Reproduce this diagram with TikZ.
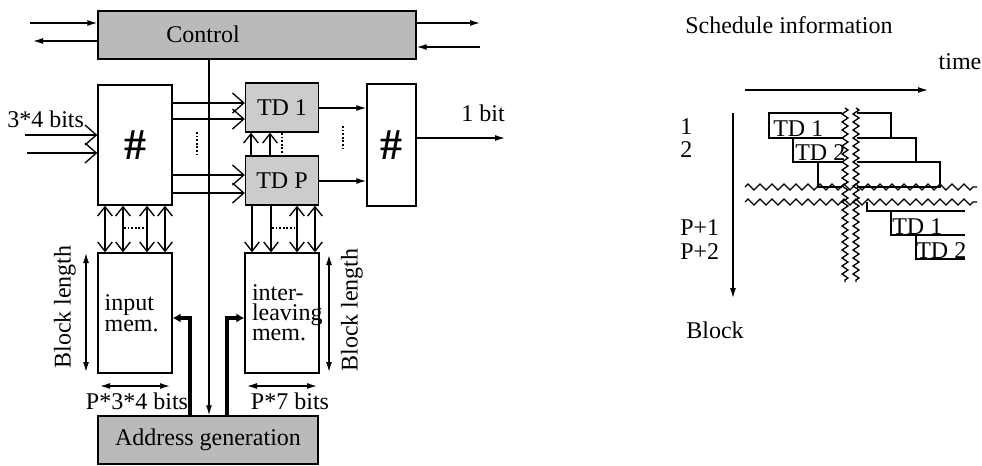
\documentclass[tikz,border=0pt]{standalone}
\usepackage{fontspec}
\setmainfont{Liberation Serif}
\usetikzlibrary{arrows.meta,decorations.pathmorphing}
\begin{document}
\begin{tikzpicture}[x=0.75pt,y=-0.75pt,
  every node/.style={font=\fontsize{18pt}{15.5pt}\selectfont, inner sep=0pt},
  ln/.style={line width=1pt},
  plainbox/.style={draw, line width=1pt, fill=white},
  graybox/.style={draw, line width=1pt, fill=black!27},
  tdbox/.style={draw, line width=1pt, fill=black!20},
  bigbarb/.tip={Straight Barb[length=8.5pt,width=15pt,line width=1pt]},
  smallbarb/.tip={Straight Barb[length=7pt,width=11pt,line width=1pt]},
  ltx/.tip={Latex[length=7.5pt,width=4.5pt]},
  thk/.style={line width=2.6pt, line join=miter},
  thktip/.tip={Latex[length=6pt,width=7pt]},
  dotline/.style={line width=1.6pt, dash pattern=on 1.3pt off 1.4pt},
  wavyh/.style={ln, decorate, decoration={zigzag, amplitude=2.2pt, segment length=9pt}},
  wavyv/.style={ln, decorate, decoration={zigzag, amplitude=2.2pt, segment length=6pt}},
  bigfont/.style={font=\fontsize{33pt}{33pt}\selectfont\bfseries}
]
\useasboundingbox (0,0) rectangle (982,465);

% ---------- blocks ----------
\node[graybox, minimum width=238.5pt, minimum height=36pt,
      label={[xshift=-40.5pt,yshift=0.75pt]center:Control}] (ctrl) at (257,35) {};
\node[plainbox, minimum width=55.5pt, minimum height=90pt, bigfont] (lhash) at (135,145) {\#};
\node[tdbox, minimum width=54.75pt, minimum height=36.75pt] (td1) at (282,107.5) {TD 1};
\node[tdbox, minimum width=54.75pt, minimum height=36.75pt] (tdp) at (282,180.5) {TD P};
\node[plainbox, minimum width=36.75pt, minimum height=91.5pt, bigfont] (rhash) at (391.5,145) {\#};
\node[plainbox, minimum width=55.5pt, minimum height=90pt, inner xsep=5pt,
      text width=45.5pt, align=left, font=\fontsize{18pt}{15.75pt}\selectfont] (inmem) at (135,313) {input\\[0pt]mem.\\[6pt]};
\node[plainbox, minimum width=55.5pt, minimum height=90pt, inner xsep=5.25pt,
      text width=45pt, align=left, font=\fontsize{18pt}{15pt}\selectfont] (ilmem) at (282,313) {inter-\\leaving\\mem.\\[6pt]};
\node[graybox, minimum width=165pt, minimum height=36pt] (addr) at (208,440) {Address generation};

% ---------- control connectors ----------
\coordinate (cl1) at (30,23);
\coordinate (cl2) at (33,41);
\coordinate (cr1) at (480,23);
\coordinate (cr2) at (480,47);
\draw[ln,-{ltx}] (cl1) -- (cl1 -| ctrl.west);
\draw[ln,-{ltx}] (cl2 -| ctrl.west) -- (cl2);
\draw[ln,-{ltx}] (cr1 -| ctrl.east) -- (cr1);
\draw[ln,-{ltx}] (cr2) -- (cr2 -| ctrl.east);
\draw[ln,-{ltx}] (ctrl.south -| 209,0) -- (addr.north -| 209,0);

% ---------- inputs ----------
\coordinate (in1) at (25,135);
\coordinate (in2) at (27,153);
\node[anchor=west] (inlabel) at (7,119) {3*4 bits};
\draw[ln,-{bigbarb}] (in1) -- (in1 -| lhash.west);
\draw[ln,-{bigbarb}] (in2) -- (in2 -| lhash.west);

% ---------- # to TDs ----------
\draw[ln,-{bigbarb}] (lhash.east |- 0,103) -- (td1.west |- 0,103);
\draw[ln,-{bigbarb}] (lhash.east |- 0,119) -- (td1.west |- 0,119);
\draw[ln,-{bigbarb}] (lhash.east |- 0,175) -- (tdp.west |- 0,175);
\draw[ln,-{bigbarb}] (lhash.east |- 0,193) -- (tdp.west |- 0,193);
\draw[dotline] (197,132) -- (197,155);

% TD P -> TD 1
\draw[ln,-{smallbarb}] (tdp.north -| 251,0) -- (td1.south -| 251,0);
\draw[ln,-{smallbarb}] (tdp.north -| 270,0) -- (td1.south -| 270,0);
\draw[dotline] (282,133) -- (282,156);

% TDs -> right #
\draw[ln,-{ltx}] (td1.east |- 0,108) -- (rhash.west |- 0,108);
\draw[ln,-{ltx}] (tdp.east |- 0,181) -- (rhash.west |- 0,181);
\draw[dotline] (343,126) -- (343,149);
\coordinate (out) at (505,138);
\draw[ln,-{ltx}] (rhash.east |- out) -- (out);
\node (outlabel) at (483,113) {1 bit};

% ---------- memory buses ----------
\foreach \x in {105,123,147,165}
  \draw[ln,{smallbarb}-{smallbarb}] (lhash.south -| \x,0) -- (inmem.north -| \x,0);
\draw[dotline] (124,228) -- (147,228);
\foreach \x in {252,271}
  \draw[ln,-{smallbarb}] (tdp.south -| \x,0) -- (ilmem.north -| \x,0);
\foreach \x in {297,315}
  \draw[ln,{smallbarb}-{smallbarb}] (tdp.south -| \x,0) -- (ilmem.north -| \x,0);
\draw[dotline] (272,228) -- (296,228);

% ---------- dimension arrows ----------
\draw[ln,{ltx}-{ltx}] (86,253) -- (86,372);
\node[rotate=90] (bl1) at (65,307) {Block length};
\draw[ln,{ltx}-{ltx}] (329,255) -- (329,372);
\node[rotate=90] (bl2) at (352,310) {Block length};
\draw[ln,{ltx}-{ltx}] (100,386) -- (170,386);
\node (w1) at (137,401) {P*3*4 bits};
\draw[ln,{ltx}-{ltx}] (247,386) -- (317,386);
\node (w2) at (290,401) {P*7 bits};

% ---------- address lines ----------
\draw[thk,-{thktip}] (addr.north -| 190,0) |- (inmem.east |- 0,318);
\draw[thk,-{thktip}] (addr.north -| 227,0) |- (ilmem.west |- 0,318);

% ---------- schedule ----------
\node[anchor=west] (schedtitle) at (685,25) {Schedule information};
\node (timelabel) at (960,62) {time};
\coordinate (t0) at (745,90);
\coordinate (t1) at (928,90);
\draw[ln,-{ltx}] (t0) -- (t1);
\coordinate (b0) at (733,113);
\coordinate (b1) at (733,298);
\draw[ln,-{ltx}] (b0) -- (b1);
\node (blocklabel) at (715,330) {Block};
\node[anchor=west] (r1) at (680,127) {1};
\node[anchor=west] (r2) at (680,150) {2};
\node[anchor=west] (rp1) at (680,228) {P+1};
\node[anchor=west] (rp2) at (680,252) {P+2};

% staircase (upper)
\draw[ln] (842,113) -- (769,113) -- (769,138) -- (842,138);
\draw[ln] (857,113) -- (891,113) -- (891,138) -- (857,138);
\draw[ln] (793,138) -- (793,162) -- (842,162);
\draw[ln] (857,162) -- (916,162) -- (916,138) -- (891,138);
\draw[ln] (818,162) -- (818,187) -- (842,187);
\draw[ln] (857,187) -- (940,187) -- (940,162) -- (916,162);
\node[anchor=base west] (s1) at (773,136) {TD 1};
\node[anchor=base west] (s2) at (795,160) {TD 2};

% staircase (lower)
\draw[ln] (867,202) -- (867,211) -- (965,211);
\draw[ln] (891,211) -- (891,235) -- (965,235);
\draw[ln] (916,235) -- (916,259) -- (965,259);
\node[anchor=base west] (s3) at (892,234) {TD 1};
\node[anchor=base west] (s4) at (916,258) {TD 2};

% breaks
\draw[wavyh] (745,187) -- (977,187);
\draw[wavyh] (745,202) -- (977,202);
\draw[wavyv] (845,108) -- (845,282);
\draw[wavyv] (856,108) -- (856,282);
\end{tikzpicture}
\end{document}
